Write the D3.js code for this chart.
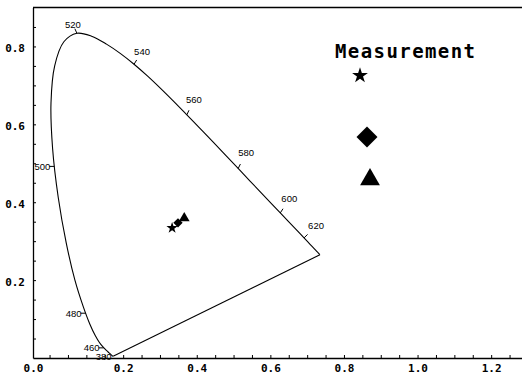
<!DOCTYPE html>
<html>
<head>
<meta charset="utf-8">
<script src="https://cdn.jsdelivr.net/npm/d3@7.9.0/dist/d3.min.js"></script>
<style>
  body { margin: 0; background: #fff; }
  svg { display: block; }
</style>
</head>
<body>
<div id="chart"></div>
<script>
// CIE 1931 spectral locus (x, y), 380..700 nm every 5 nm
const locusX = [0.1741,0.1740,0.1738,0.1736,0.1733,0.1730,0.1726,0.1721,0.1714,0.1703,
  0.1689,0.1669,0.1644,0.1611,0.1566,0.1510,0.1440,0.1355,0.1241,0.1096,
  0.0913,0.0687,0.0454,0.0235,0.0082,0.0039,0.0139,0.0389,0.0743,0.1142,
  0.1547,0.1929,0.2296,0.2658,0.3016,0.3373,0.3731,0.4087,0.4441,0.4788,
  0.5125,0.5448,0.5752,0.6029,0.6270,0.6482,0.6658,0.6801,0.6915,0.7006,
  0.7079,0.7140,0.7190,0.7230,0.7260,0.7283,0.7300,0.7311,0.7320,0.7327,
  0.7334,0.7340,0.7344,0.7346,0.7347];
const locusY = [0.0050,0.0050,0.0049,0.0049,0.0048,0.0048,0.0048,0.0048,0.0051,0.0058,
  0.0069,0.0086,0.0109,0.0138,0.0177,0.0227,0.0297,0.0399,0.0578,0.0868,
  0.1327,0.2007,0.2950,0.4127,0.5384,0.6548,0.7502,0.8120,0.8338,0.8262,
  0.8059,0.7816,0.7543,0.7243,0.6923,0.6589,0.6245,0.5896,0.5547,0.5202,
  0.4866,0.4544,0.4242,0.3965,0.3725,0.3514,0.3340,0.3197,0.3083,0.2993,
  0.2920,0.2859,0.2809,0.2770,0.2740,0.2717,0.2700,0.2689,0.2680,0.2673,
  0.2666,0.2660,0.2656,0.2654,0.2653];

// wavelength marks on the locus
const markNames = ['520', '540', '560', '580', '600', '620', '500', '480', '460', '380'];
const markX = [0.0743, 0.2296, 0.3731, 0.5125, 0.6270, 0.6915, 0.013, 0.098, 0.147, 0.1741];
const markY = [0.8338, 0.7543, 0.6245, 0.4866, 0.3725, 0.3083, 0.492, 0.115, 0.026, 0.005];

// measurements
const measNames = ['star', 'diamond', 'triangle'];
const measX = [0.333, 0.349, 0.366];
const measY = [0.334, 0.347, 0.359];

const xTickValues = [-0.045, 0.2, 0.4, 0.6, 0.8, 1.0, 1.2];
const xTickLabels = ['0.0', '0.2', '0.4', '0.6', '0.8', '1.0', '1.2'];
const yTickValues = [0.2, 0.4, 0.6, 0.8];
const yTickLabels = ['0.2', '0.4', '0.6', '0.8'];

const width = 522;
const height = 378;
const area = { left: 33, right: 522, top: 7.5, bottom: 358 };

// label offsets in px from the mark point (text centre)
const markOffset = {
  '520': [-4, -9], '540': [8, -13], '560': [7, -15], '580': [8, -16],
  '600': [9, -14], '620': [12, -12], '500': [-12, 0], '480': [-12, 0],
  '460': [-12, 0], '380': [-10, 1]
};

const svg = d3.select('#chart')
  .append('svg')
  .attr('width', width)
  .attr('height', height);

const x = d3.scaleLinear().domain([-0.045, 1.2838]).range([area.left, area.right]);
const y = d3.scaleLinear().domain([0, 0.9]).range([area.bottom, area.top]);

const tickFont = '"DejaVu Sans Mono", monospace';

// axes: minor ticks every 0.05, pointing inward
const xMinor = d3.range(0, 1.2838, 0.05);
const yMinor = d3.range(0.05, 0.9, 0.05);

svg.append('g')
  .attr('transform', `translate(0,${area.bottom})`)
  .call(d3.axisBottom(x).tickValues(xMinor).tickSize(-3).tickFormat('').tickSizeOuter(0))
  .call(g => g.select('.domain').attr('stroke-width', 1.3));

svg.append('g')
  .attr('transform', `translate(0,${area.bottom})`)
  .call(d3.axisBottom(x).tickValues(xTickValues).tickSize(0).tickPadding(6)
    .tickFormat((d, i) => xTickLabels[i]))
  .call(g => g.select('.domain').remove())
  .call(g => g.selectAll('text')
    .attr('font-family', tickFont).attr('font-weight', 'bold').attr('font-size', 11));

svg.append('g')
  .attr('transform', `translate(${area.left},0)`)
  .call(d3.axisLeft(y).tickValues(yMinor).tickSize(-3).tickFormat('').tickSizeOuter(0))
  .call(g => g.select('.domain').attr('stroke-width', 1.3));

svg.append('g')
  .attr('transform', `translate(${area.left},0)`)
  .call(d3.axisLeft(y).tickValues(yTickValues).tickSize(0).tickPadding(8)
    .tickFormat((d, i) => yTickLabels[i]))
  .call(g => g.select('.domain').remove())
  .call(g => g.selectAll('text')
    .attr('dy', '0.45em')
    .attr('font-family', tickFont).attr('font-weight', 'bold').attr('font-size', 11));

// top border
svg.append('line')
  .attr('x1', area.left).attr('x2', area.right)
  .attr('y1', area.top).attr('y2', area.top)
  .attr('stroke', '#000').attr('stroke-width', 1.3);

// spectral locus (smooth) + straight purple line
const locus = locusX.map((v, i) => [v, locusY[i]]);
svg.append('path')
  .datum(locus)
  .attr('d', d3.line().x(d => x(d[0])).y(d => y(d[1])).curve(d3.curveCatmullRom))
  .attr('fill', 'none')
  .attr('stroke', '#000')
  .attr('stroke-width', 1.1);

svg.append('path')
  .datum([locus[locus.length - 1], locus[0]])
  .attr('d', d3.line().x(d => x(d[0])).y(d => y(d[1])))
  .attr('fill', 'none')
  .attr('stroke', '#000')
  .attr('stroke-width', 1.1);

// wavelength marks
const marks = svg.append('g').attr('class', 'marks');
markNames.forEach((name, i) => {
  const px = x(markX[i]);
  const py = y(markY[i]);
  const [dx, dy] = markOffset[name];
  const len = Math.hypot(dx, dy);
  if (name !== '380') {
    marks.append('line')
      .attr('x1', px).attr('y1', py)
      .attr('x2', px + dx / len * 5).attr('y2', py + dy / len * 5)
      .attr('stroke', '#000').attr('stroke-width', 1);
  }
  marks.append('text')
    .attr('x', px + dx)
    .attr('y', py + dy)
    .attr('dy', '0.35em')
    .attr('text-anchor', 'middle')
    .attr('font-family', '"Liberation Sans", Arial, sans-serif')
    .attr('font-size', 9.5)
    .text(name);
});

// measurement symbols
const symbolType = { star: d3.symbolStar, diamond: d3.symbolDiamond2, triangle: d3.symbolTriangle };
const pointSize = { star: 40, diamond: 55, triangle: 50 };
svg.append('g')
  .selectAll('path')
  .data(measNames)
  .join('path')
  .attr('transform', (d, i) => `translate(${x(measX[i])},${y(measY[i])})`)
  .attr('d', d => d3.symbol(symbolType[d], pointSize[d])())
  .attr('fill', '#000');

// legend
const legend = svg.append('g').attr('class', 'legend');
legend.append('text')
  .attr('x', 335)
  .attr('y', 58)
  .attr('font-family', tickFont)
  .attr('font-weight', 'bold')
  .attr('font-size', 19)
  .attr('textLength', 140)
  .attr('lengthAdjust', 'spacing')
  .text('Measurement');

const legendPos = { star: [360, 75.5], diamond: [367, 137], triangle: [370, 179.5] };
const legendSize = { star: 78, diamond: 280, triangle: 170 };
legend.selectAll('path')
  .data(measNames)
  .join('path')
  .attr('transform', d => `translate(${legendPos[d][0]},${legendPos[d][1]})`)
  .attr('d', d => d3.symbol(symbolType[d], legendSize[d])())
  .attr('fill', '#000');
</script>
</body>
</html>
